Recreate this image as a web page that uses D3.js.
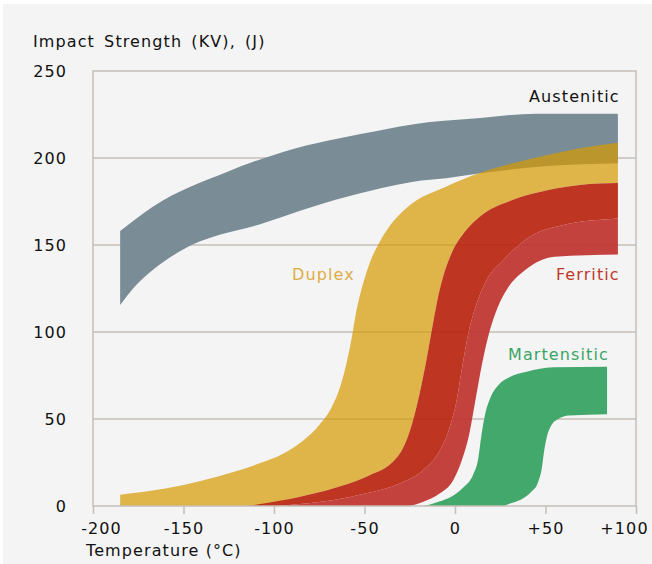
<!DOCTYPE html>
<html>
<head>
<meta charset="utf-8">
<script src="https://cdn.jsdelivr.net/npm/d3@7"></script>
<style>
    body { margin: 0; background: #ffffff; }
    text { font-family: "DejaVu Sans", Verdana, sans-serif; font-size: 16px; letter-spacing: 1.1px; }
</style>
</head>
<body>
<svg id="chart" width="652" height="564"></svg>
<script>
// temperature (°C), impact strength (J) pairs
const austeniticUpper = [[-185, 158], [-167, 172], [-126, 192], [-95, 203.5], [-46, 215], [-15, 220.5], [14, 223], [45, 225.5], [90, 225.5]]
const austeniticLower = [[-185, 115.5], [-177, 126], [-167, 135.6], [-151, 147], [-106, 162.5], [-66, 176], [-41, 182.6], [-23, 186.4], [-5, 188.3], [14, 191.2], [32, 193.5], [51, 195.4], [90, 197]]

const duplexUpper = [[-185, 6.5], [-160, 10], [-140, 14.5], [-122, 19.7], [-108, 24.5], [-95, 30], [-84, 37.5], [-75, 46.5], [-68, 57], [-63, 70], [-59.5, 84], [-57, 97], [-54.5, 112], [-51, 127], [-47, 140], [-42, 151], [-36, 161], [-26, 172], [-5, 183.5], [14, 191.5], [32, 197], [51, 201.7], [69, 205.6], [90, 208.8]]

const ferriticUpper = [[-115, 0], [-85.6, 5.3], [-67, 10.2], [-49, 16.8], [-32, 28], [-26, 40], [-21, 58], [-16.5, 80], [-13, 100], [-10, 117], [-6.5, 132], [-2, 145], [5, 157], [14, 166.5], [32, 176], [51, 181.5], [69, 184.5], [90, 185.6]]
const ferriticMid = [[-98, 0], [-85.6, 1.1], [-67, 3.4], [-49, 7.3], [-30.4, 13], [-17.5, 20.7], [-8.3, 32], [-3, 45], [0.8, 60], [4, 80], [7.5, 100], [11.5, 115], [17, 129], [26.7, 141.4], [41.4, 154.8], [59.8, 161.5], [90, 165.3]]
const ferriticLower = [[-25, 0], [-17.5, 2.5], [-8.3, 7.3], [-0.9, 15], [4, 27], [8, 42], [11.5, 62], [15, 82], [19, 100], [23.5, 114], [29, 125], [38.8, 135.6], [55, 143.3], [90, 144.5]]

const martensiticUpper = [[-17.5, 0], [-12, 1.5], [0.9, 7.3], [5, 11], [10, 18], [12.8, 27], [14.5, 40], [16.5, 52], [19.5, 62], [24, 69.5], [30, 74], [39.6, 77.2], [54.3, 79.7], [84, 80]]
const martensiticLower = [[27, 0], [30.4, 1.5], [36, 3.5], [42, 8], [46, 14], [48, 22], [49.3, 32], [50.8, 40], [53, 46], [57, 50], [63, 52], [84, 52.7]]

const xTicks = [-200, -150, -100, -50, 0, 50, 100]
const yTicks = [0, 50, 100, 150, 200, 250]

const svg = d3.select("#chart")

svg.append("rect")
    .attr("x", 3).attr("y", 4)
    .attr("width", 649).attr("height", 560)
    .attr("fill", "#f4f4f4")

const x = d3.scaleLinear().domain([-200, 100]).range([93, 636])
const y = d3.scaleLinear().domain([0, 250]).range([506, 71])

const frameColor = "#c6bfb7"

// horizontal grid
svg.append("g")
    .selectAll("line")
    .data(yTicks.slice(1, -1))
    .join("line")
    .attr("x1", x(-200)).attr("x2", x(100))
    .attr("y1", d => y(d)).attr("y2", d => y(d))
    .attr("stroke", frameColor)
    .attr("stroke-width", 1.5)

const line = d3.line()
    .x(d => x(d[0]))
    .y(d => y(d[1]))
    .curve(d3.curveMonotoneX)

function band(upper, lower) {
    const top = line(upper)
    const bottom = line(lower.slice().reverse())
    return top + "L" + bottom.slice(1) + "Z"
}

svg.append("path")
    .attr("d", band(austeniticUpper, austeniticLower))
    .attr("fill", "#7a8c96")

svg.append("path")
    .attr("d", band(duplexUpper, [[-185, 0]].concat(ferriticUpper)))
    .attr("fill", "#d69a00")
    .attr("fill-opacity", 0.7)

svg.append("path")
    .attr("d", band(ferriticUpper, ferriticMid))
    .attr("fill", "#b9240e")
    .attr("fill-opacity", 0.92)

svg.append("path")
    .attr("d", band(ferriticMid, ferriticLower))
    .attr("fill", "#bf322e")
    .attr("fill-opacity", 0.92)

svg.append("path")
    .attr("d", band(martensiticUpper, martensiticLower))
    .attr("fill", "#42a86b")

// frame
svg.append("rect")
    .attr("x", x(-200)).attr("y", y(250))
    .attr("width", x(100) - x(-200)).attr("height", y(0) - y(250))
    .attr("fill", "none")
    .attr("stroke", frameColor)
    .attr("stroke-width", 1.5)

const xAxis = svg.append("g")
    .attr("transform", `translate(0,${y(0)})`)
    .call(d3.axisBottom(x).tickValues(xTicks).tickSize(8).tickPadding(9)
        .tickFormat(d => d > 0 ? "+" + d : String(d)))
xAxis.select(".domain").remove()
xAxis.selectAll("line").attr("stroke", frameColor).attr("stroke-width", 1.5)
xAxis.selectAll("text").attr("fill", "#111").attr("font-size", null).attr("font-family", null)
xAxis.selectAll("text").filter(d => d === -200).attr("dx", 8)
xAxis.selectAll("text").filter(d => d === 100).attr("dx", -12)

const yAxis = svg.append("g")
    .attr("transform", `translate(${x(-200)},0)`)
    .call(d3.axisLeft(y).tickValues(yTicks).tickSize(0).tickPadding(26))
yAxis.select(".domain").remove()
yAxis.selectAll("text").attr("fill", "#111").attr("font-size", null).attr("font-family", null)

svg.append("text")
    .attr("x", 33).attr("y", 47)
    .attr("fill", "#111")
    .style("word-spacing", "3px")
    .text("Impact Strength (KV), (J)")

svg.append("text")
    .attr("x", 86).attr("y", 556)
    .attr("fill", "#111")
    .text("Temperature (°C)")

const labels = [
    {name: "Austenitic", t: 91, v: 232, color: "#111", anchor: "end"},
    {name: "Duplex", t: -90, v: 130, color: "#dcae45", anchor: "start"},
    {name: "Ferritic", t: 91, v: 130, color: "#c0392b", anchor: "end"},
    {name: "Martensitic", t: 85, v: 84, color: "#3aa464", anchor: "end"},
]

svg.append("g")
    .selectAll("text")
    .data(labels)
    .join("text")
    .attr("x", d => x(d.t))
    .attr("y", d => y(d.v))
    .attr("text-anchor", d => d.anchor)
    .attr("fill", d => d.color)
    .text(d => d.name)
</script>
</body>
</html>
